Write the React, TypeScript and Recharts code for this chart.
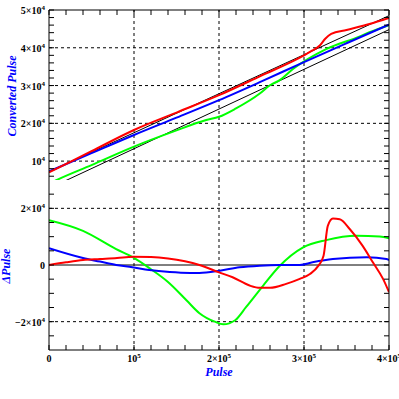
import { Line, LineChart, ReferenceLine, XAxis, YAxis } from 'recharts'

// tick positions
const pulseTicks = [
  0, 20000, 40000, 60000, 80000, 100000, 120000, 140000, 160000, 180000, 200000,
  220000, 240000, 260000, 280000, 300000, 320000, 340000, 360000, 380000, 400000,
]
const convTicks = [
  6000, 8000, 10000, 12000, 14000, 16000, 18000, 20000, 22000, 24000, 26000, 28000,
  30000, 32000, 34000, 36000, 38000, 40000, 42000, 44000, 46000, 48000, 50000,
]
const deltaTicks = [-25000, -20000, -15000, -10000, -5000, 0, 5000, 10000, 15000, 20000, 25000]

const pulseGrid = [100000, 200000, 300000]
const convGrid = [10000, 20000, 30000, 40000]
const deltaGrid = [-20000, 20000]

// labels: [mantissa, exponent]
const pulseLabels: Record<string, [string, string]> = {
  '0': ['0', ''],
  '100000': ['10', '5'],
  '200000': ['2×10', '5'],
  '300000': ['3×10', '5'],
  '400000': ['4×10', '5'],
}
const convLabels: Record<string, [string, string]> = {
  '10000': ['10', '4'],
  '20000': ['2×10', '4'],
  '30000': ['3×10', '4'],
  '40000': ['4×10', '4'],
  '50000': ['5×10', '4'],
}
const deltaLabels: Record<string, [string, string]> = {
  '-20000': ['−2×10', '4'],
  '0': ['0', ''],
  '20000': ['2×10', '4'],
}

// upper panel: converted pulse
const redPulse = [0, 50000, 100000, 150000, 200000, 248000, 300000, 310000, 318500, 325000, 332000, 350000, 377000, 400000]
const redConv = [7000, 12620, 18240, 22850, 27450, 32450, 37970, 39290, 40600, 42400, 43680, 44730, 46300, 47900]

const bluePulse = [0, 50000, 100000, 150000, 200000, 250000, 300000, 350000, 400000]
const blueConv = [7260, 12100, 16920, 21500, 26130, 31100, 36210, 41200, 46130]

const greenPulse = [0, 10000, 50000, 100000, 146000, 185000, 200000, 220000, 248000, 260000, 271000, 287000, 326000, 365000, 377000, 400000]
const greenConv = [4000, 5100, 8950, 13840, 17790, 20870, 21740, 23950, 27890, 30080, 31390, 34390, 39660, 42970, 44100, 46000]

const blackAPulse = [0, 400000]
const blackAConv = [7180, 48500]
const blackBPulse = [0, 400000]
const blackBConv = [2770, 44800]

// lower panel: residuals
const dBluePulse = [0, 40000, 60000, 79000, 98000, 118000, 142000, 166000, 177000, 201000, 224000, 248000, 271000, 295000, 310000, 334000, 374000, 397000, 400000]
const dBlue = [5900, 2450, 1200, 0, -800, -1800, -2500, -2800, -2800, -2000, -820, -230, 0, 0, 950, 2100, 2700, 2100, 1750]

const dGreenPulse = [0, 40000, 79000, 99000, 120000, 140000, 162000, 177000, 195000, 205000, 219000, 232000, 252000, 271000, 299000, 326000, 362000, 389000, 400000]
const dGreen = [15790, 12040, 5610, 2700, -1500, -6000, -12530, -17000, -20000, -20950, -19500, -14800, -7260, -460, 6210, 8770, 10280, 10070, 9470]

const dRedPulse = [0, 20000, 40000, 60000, 80000, 99000, 120000, 140000, 160000, 177000, 200000, 216000, 236000, 248000, 260000, 279000, 295000, 307000, 317000, 323000, 328000, 334000, 342000, 354000, 369000, 381000, 393000, 400000]
const dRed = [0, 950, 1750, 2100, 2450, 2900, 2800, 2300, 1300, 0, -2600, -4330, -7250, -8070, -8070, -6670, -4910, -3160, -230, 3270, 13790, 16380, 16140, 12630, 6770, 950, -4910, -9580]

const pts = (xs: number[], ys: number[]) => xs.map((x, i) => ({ x, y: ys[i] }))

const PLOT_L = 49
const PLOT_R = 389
const TICK = 5
const tickFont = { fontFamily: '"Liberation Serif", serif', fontSize: 10, fontWeight: 700, fill: '#000' }
const titleFont = { fontFamily: '"Liberation Serif", serif', fontSize: 12, fontWeight: 700, fontStyle: 'italic', fill: '#0000ff' }

function EdgeTick(props: any) {
  const { payload, side, edge, labels } = props
  const horiz = side === 'left' || side === 'right'
  const c = payload?.coordinate ?? (horiz ? props.y : props.x)
  const lab: [string, string] | undefined = labels?.[String(payload?.value)]
  const d = side === 'left' || side === 'top' ? TICK : -TICK
  return (
    <g>
      {horiz ? (
        <line x1={edge} x2={edge + d} y1={c} y2={c} stroke="#000" />
      ) : (
        <line x1={c} x2={c} y1={edge} y2={edge + d} stroke="#000" />
      )}
      {lab && (
        <text
          x={horiz ? edge - 4 : c}
          y={horiz ? c + 4 : edge + 12}
          textAnchor={horiz ? 'end' : 'middle'}
          style={tickFont}
        >
          {lab[0]}
          {lab[1] && (
            <tspan dy={-4} fontSize={7}>
              {lab[1]}
            </tspan>
          )}
        </text>
      )}
    </g>
  )
}

function AxisTitle({ tx, ty, text, vertical }: any) {
  return (
    <text
      x={tx}
      y={ty}
      transform={vertical ? `rotate(-90 ${tx} ${ty})` : undefined}
      textAnchor="middle"
      dominantBaseline="central"
      style={titleFont}
    >
      {text}
    </text>
  )
}

const axisLine = { stroke: '#000' }
const grid = { stroke: '#000', strokeDasharray: '3 3', strokeWidth: 1 }

export default function App() {
  return (
    <div style={{ position: 'absolute', left: 0, top: 0, width: 399, height: 399, background: '#fff' }}>
      <div style={{ position: 'absolute', left: 0, top: 0 }}>
        <LineChart width={399} height={181} margin={{ top: 0, right: 0, bottom: 1, left: 0 }}>
          <XAxis xAxisId="b" type="number" dataKey="x" domain={[0, 400000]} allowDataOverflow
            ticks={pulseTicks} interval={0} height={0} axisLine={axisLine} tickLine={false}
            tick={<EdgeTick side="bottom" edge={180} />} />
          <XAxis xAxisId="t" orientation="top" type="number" dataKey="x" domain={[0, 400000]} allowDataOverflow
            ticks={pulseTicks} interval={0} height={10} axisLine={axisLine} tickLine={false}
            tick={<EdgeTick side="top" edge={10} />} />
          <YAxis yAxisId="l" type="number" domain={[5000, 50000]} allowDataOverflow ticks={convTicks}
            interval={0} width={PLOT_L} axisLine={axisLine} tickLine={false}
            tick={<EdgeTick side="left" edge={PLOT_L} labels={convLabels} />}
            label={<AxisTitle tx={12} ty={96} text="Converted Pulse" vertical />} />
          <YAxis yAxisId="r" orientation="right" type="number" domain={[5000, 50000]} allowDataOverflow
            ticks={convTicks} interval={0} width={399 - PLOT_R} axisLine={axisLine} tickLine={false}
            tick={<EdgeTick side="right" edge={PLOT_R} />} />
          {pulseGrid.map(v => (
            <ReferenceLine key={'x' + v} x={v} xAxisId="b" yAxisId="l" {...grid} />
          ))}
          {convGrid.map(v => (
            <ReferenceLine key={'y' + v} y={v} xAxisId="b" yAxisId="l" {...grid} />
          ))}
          <Line data={pts(blackBPulse, blackBConv)} dataKey="y" xAxisId="b" yAxisId="l" stroke="#000" strokeWidth={1} dot={false} isAnimationActive={false} />
          <Line data={pts(blackAPulse, blackAConv)} dataKey="y" xAxisId="b" yAxisId="l" stroke="#000" strokeWidth={1} dot={false} isAnimationActive={false} />
          <Line data={pts(greenPulse, greenConv)} dataKey="y" xAxisId="b" yAxisId="l" type="monotone" stroke="#00ff00" strokeWidth={2} dot={false} isAnimationActive={false} />
          <Line data={pts(bluePulse, blueConv)} dataKey="y" xAxisId="b" yAxisId="l" type="monotone" stroke="#0000ff" strokeWidth={2} dot={false} isAnimationActive={false} />
          <Line data={pts(redPulse, redConv)} dataKey="y" xAxisId="b" yAxisId="l" type="monotone" stroke="#ff0000" strokeWidth={2} dot={false} isAnimationActive={false} />
        </LineChart>
      </div>
      <div style={{ position: 'absolute', left: 0, top: 180 }}>
        <LineChart width={399} height={219} margin={{ top: 0, right: 0, bottom: 0, left: 0 }}>
          <XAxis xAxisId="b" type="number" dataKey="x" domain={[0, 400000]} allowDataOverflow
            ticks={pulseTicks} interval={0} height={49} axisLine={axisLine} tickLine={false}
            tick={<EdgeTick side="bottom" edge={170} labels={pulseLabels} />}
            label={<AxisTitle tx={219} ty={192} text="Pulse" />} />
          <XAxis xAxisId="t" orientation="top" type="number" dataKey="x" domain={[0, 400000]} allowDataOverflow
            ticks={pulseTicks} interval={0} height={0} axisLine={axisLine} tickLine={false}
            tick={<EdgeTick side="top" edge={0} />} />
          <YAxis yAxisId="l" type="number" domain={[-30000, 30000]} allowDataOverflow ticks={deltaTicks}
            interval={0} width={PLOT_L} axisLine={axisLine} tickLine={false}
            tick={<EdgeTick side="left" edge={PLOT_L} labels={deltaLabels} />}
            label={<AxisTitle tx={6} ty={86} text="ΔPulse" vertical />} />
          <YAxis yAxisId="r" orientation="right" type="number" domain={[-30000, 30000]} allowDataOverflow
            ticks={deltaTicks} interval={0} width={399 - PLOT_R} axisLine={axisLine} tickLine={false}
            tick={<EdgeTick side="right" edge={PLOT_R} />} />
          {pulseGrid.map(v => (
            <ReferenceLine key={'x' + v} x={v} xAxisId="b" yAxisId="l" {...grid} />
          ))}
          {deltaGrid.map(v => (
            <ReferenceLine key={'y' + v} y={v} xAxisId="b" yAxisId="l" {...grid} />
          ))}
          <ReferenceLine y={0} xAxisId="b" yAxisId="l" stroke="#000" strokeWidth={1} />
          <Line data={pts(dGreenPulse, dGreen)} dataKey="y" xAxisId="b" yAxisId="l" type="monotone" stroke="#00ff00" strokeWidth={2} dot={false} isAnimationActive={false} />
          <Line data={pts(dBluePulse, dBlue)} dataKey="y" xAxisId="b" yAxisId="l" type="monotone" stroke="#0000ff" strokeWidth={2} dot={false} isAnimationActive={false} />
          <Line data={pts(dRedPulse, dRed)} dataKey="y" xAxisId="b" yAxisId="l" type="monotone" stroke="#ff0000" strokeWidth={2} dot={false} isAnimationActive={false} />
        </LineChart>
      </div>
    </div>
  )
}
